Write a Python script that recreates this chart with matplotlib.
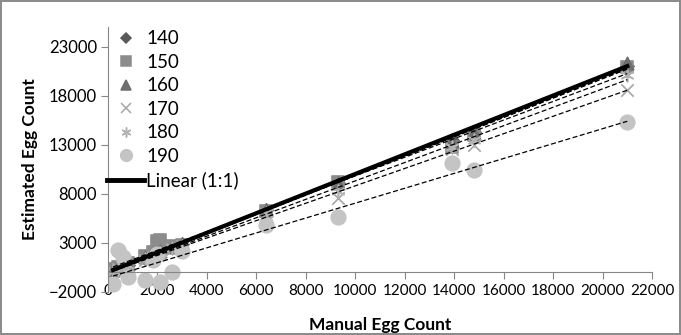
import numpy as np
import matplotlib
matplotlib.use("Agg")
import matplotlib.pyplot as plt
from matplotlib.lines import Line2D

plt.rcParams['font.family'] = ['Lato', 'DejaVu Sans']

# manual counts (shared by all thresholds)
manual = [200, 400, 600, 800, 1500, 1800, 2000, 2100, 2600, 3000,
          6400, 9300, 13900, 14800, 21000]

thresholds = ['140', '150', '160', '170', '180', '190']
est_140 = [200, 400, 550, 750, 1400, 1700, 1900, 2000, 2500, 2900,
           6300, 9100, 13500, 14300, 21000]
est_150 = [300, 500, 700, 900, 1600, 2000, 3200, 3300, 2700, 2800,
           6200, 9200, 12800, 14000, 20900]
est_160 = [250, 450, 650, 850, 1500, 1800, 2000, 2100, 2500, 2900,
           6300, 9100, 13400, 14200, 21300]
est_170 = [100, 300, 500, 600, 1200, 1500, 1700, 1800, 2300, 2600,
           5900, 7500, 12500, 13000, 18600]
est_180 = [150, 350, 500, 700, 1300, 1600, 1800, 1900, 2400, 2700,
           6000, 8300, 12700, 13500, 20100]
est_190 = [-1200, 2200, 1500, -500, -800, 1200, 1800, -1000, 0, 2100,
           4800, 5600, 11100, 10400, 15300]
estimates = [est_140, est_150, est_160, est_170, est_180, est_190]

markers = ['D', 's', '^', 'x', (6, 2, 0), 'o']
colors = ['#595959', '#8c8c8c', '#6e6e6e', '#a6a6a6', '#b3b3b3', '#c4c4c4']
sizes = [45, 80, 80, 80, 80, 110]

fig = plt.figure(figsize=(6.81, 3.35), dpi=100)
fig.patch.set_edgecolor('#8c8c8c')
fig.patch.set_linewidth(1.5)
ax = fig.add_axes([0.1586, 0.1296, 0.7988, 0.79])

x = np.array(manual)
handles = []
for lab, ys, m, c, s in zip(thresholds, estimates, markers, colors, sizes):
    ax.scatter(x, ys, marker=m, color=c, s=s, linewidths=1.2, zorder=2)
    handles.append(Line2D([], [], marker=m, color=c, linestyle='None',
                          markersize=np.sqrt(s) * 0.8, markeredgewidth=1.1,
                          label=lab))

# linear trendlines for each threshold
for ys in estimates:
    k, b = np.polyfit(x, ys, 1)
    xx = np.array([x.min(), x.max()])
    ax.plot(xx, k * xx + b, color='black', linestyle=(0, (4, 2)),
            linewidth=0.9, zorder=3)

# 1:1 line
ax.plot([x.min(), x.max()], [x.min(), x.max()], color='black',
        linewidth=3, zorder=4)
handles.append(Line2D([], [], color='black', linewidth=3.5, label='Linear (1:1)'))

ax.set_xlim(0, 22000)
ax.set_ylim(-2000, 25000)
ax.set_xticks(range(0, 22001, 2000))
ax.set_yticks(range(-2000, 23001, 5000))

for side in ['top', 'right']:
    ax.spines[side].set_visible(False)
ax.spines['bottom'].set_position(('data', 0))
for side in ['left', 'bottom']:
    ax.spines[side].set_color('#868686')
ax.tick_params(colors='#868686', labelcolor='black',
               length=5, direction='out')
ax.tick_params(axis='y', labelsize=12, pad=3)
ax.tick_params(axis='x', labelsize=11, pad=4)

ax.set_xlabel('Manual Egg Count', fontsize=12.5, fontweight='bold')
ax.xaxis.set_label_coords(0.5, -0.095)
ax.set_ylabel('Estimated Egg Count', fontsize=12.5, fontweight='bold')
ax.yaxis.set_label_coords(-0.128, 0.5)

leg = fig.legend(handles=handles, loc='upper left',
                 bbox_to_anchor=(0.157, 0.91), frameon=False,
                 fontsize=13.5, handlelength=2.0, handletextpad=0.1,
                 labelspacing=0.35, borderaxespad=0, borderpad=0)

fig.savefig('out.png', dpi=100)
